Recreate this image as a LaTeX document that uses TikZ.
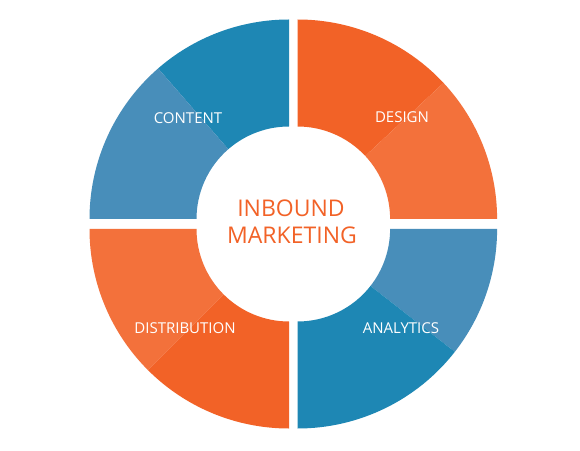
\documentclass[tikz,border=0pt]{standalone}
\usepackage{fontspec}
\setmainfont{Open Sans}
\definecolor{bluedark}{HTML}{1E87B4}
\definecolor{bluelight}{HTML}{488EBA}
\definecolor{orangedark}{HTML}{F26227}
\definecolor{orangelight}{HTML}{F3713B}
\newcommand{\ringseg}[5]{%
  \fill[#5] ([shift={(#1,#2)}]#3:199.5pt) arc[start angle=#3,end angle=#4,radius=199.5pt]
    -- ([shift={(#1,#2)}]#4:92.5pt) arc[start angle=#4,end angle=#3,radius=92.5pt] -- cycle;}
\begin{document}
\begin{tikzpicture}[x=1pt,y=1pt,
  seglabel/.style={text=white,font=\fontsize{15}{18}\selectfont,anchor=base,inner sep=0pt},
  centerlabel/.style={text=orangedark,font=\fontsize{23}{27}\selectfont,anchor=base,inner sep=0pt}]
\useasboundingbox[fill=white] (0,0) rectangle (580,450);
% content
\ringseg{289}{231}{90}{131}{bluedark}
\ringseg{289}{231}{131}{180}{bluelight}
% design
\ringseg{297.6}{231}{43}{90}{orangedark}
\ringseg{297.6}{231}{0}{43}{orangelight}
% distribution
\ringseg{289}{221}{180}{225}{orangelight}
\ringseg{289}{221}{225}{270}{orangedark}
% analytics
\ringseg{297.6}{221}{322}{360}{bluelight}
\ringseg{297.6}{221}{270}{322}{bluedark}
\node[seglabel] (content) at (188,326) {CONTENT};
\node[seglabel] (design) at (402,327) {DESIGN};
\node[seglabel] (distribution) at (185,117) {DISTRIBUTION};
\node[seglabel] (analytics) at (401,117) {ANALYTICS};
\node[centerlabel] (inbound) at (291,233.3) {INBOUND};
\node[centerlabel] (marketing) at (292,206) {MARKETING};
\end{tikzpicture}
\end{document}
